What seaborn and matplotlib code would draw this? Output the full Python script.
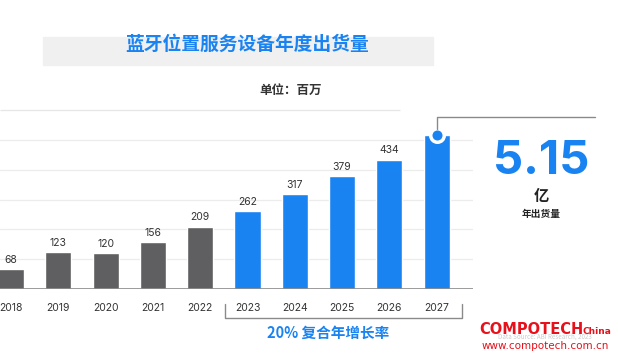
import numpy as np
import pandas as pd
import matplotlib
matplotlib.use('Agg')
import matplotlib.pyplot as plt
import seaborn as sns

# 数据
years = ['2018', '2019', '2020', '2021', '2022', '2023', '2024', '2025', '2026', '2027']
shipments = [68, 123, 120, 156, 209, 262, 317, 379, 434, 515]
forecast = [False] * 5 + [True] * 5

GRAY = '#5f5f61'
BLUE = '#1a83f2'
W, H = 618, 357


def px(x, y):
    # 像素坐标(左上为原点) -> figure 比例坐标
    return x / W, 1 - y / H


sns.set_theme(style='white')
plt.rcParams['font.family'] = ['Noto Sans CJK SC', 'DejaVu Sans']

df = pd.DataFrame({'year': years, 'value': shipments,
                   'kind': ['f' if f else 'h' for f in forecast]})

fig = plt.figure(figsize=(W / 100, H / 100), dpi=100)
fig.patch.set_facecolor('white')

# 坐标区: 第一根柱中心 x=11px, 间距 47.3px; 基线 289px, 600 -> 110px
step = 47.3
x0 = -11 / step
x1 = (473 - 11) / step
ax = fig.add_axes([0, (H - 289) / H, 473 / W, (289 - 110) / H])
sns.barplot(data=df, x='year', y='value', hue='kind', palette={'h': GRAY, 'f': BLUE},
            width=0.55, dodge=False, legend=False, ax=ax, saturation=1, zorder=3)
ax.set_xlim(x0, x1)
ax.set_ylim(0, 600)
for v in [100, 200, 300, 400, 500]:
    ax.axhline(v, color='#ececec', lw=0.9, zorder=0)
ax.hlines(600, x0, (400 - 11) / step, color='#e6e6e6', lw=0.9, clip_on=False)
ax.axhline(0, color='#8a8a8a', lw=1.2, zorder=4)
for s in ax.spines.values():
    s.set_visible(False)
ax.set_xlabel('')
ax.set_ylabel('')
ax.set_yticks([])
ax.tick_params(axis='x', length=0, pad=10, labelsize=7.5, labelcolor='#333333')
for lab in ax.get_xticklabels():
    lab.set_family(['Inter', 'DejaVu Sans'])

# 数值标签
for i, v in enumerate(shipments[:-1]):
    ax.text(i, v + 14, str(v), ha='center', va='bottom', fontsize=7.5,
            color='#333333', family=['Inter', 'DejaVu Sans'])

# 2027 顶部圆点
ax.scatter([9], [shipments[-1]], s=95, color=BLUE, edgecolor='white', linewidth=2.5,
           zorder=6, clip_on=False)

# 引出线
fig.add_artist(plt.Line2D([px(437, 129)[0], px(437, 117)[0], px(595, 117)[0]],
                          [px(437, 129)[1], px(437, 117)[1], px(595, 117)[1]],
                          color='#8a8a8a', lw=1.0))

# 标题背景带
fig.add_artist(plt.Rectangle(px(43, 65), 390 / W, 28 / H, color='#f0f0f0', zorder=0))
fig.text(*px(247, 44), '蓝牙位置服务设备年度出货量', ha='center', va='center',
         fontsize=13.5, fontweight='bold', color=BLUE)
fig.text(*px(291, 90), '单位：百万', ha='center', va='center',
         fontsize=9, fontweight='bold', color='#333333')

# 大数字
fig.text(*px(541, 162), '5.15', ha='center', va='center', fontsize=34,
         fontweight='bold', color=BLUE, family=['Inter', 'DejaVu Sans'])
fig.text(*px(541, 196), '亿', ha='center', va='center', fontsize=11,
         fontweight='bold', color='#222222')
fig.text(*px(541, 214), '年出货量', ha='center', va='center', fontsize=7,
         fontweight='bold', color='#222222')

# 增长率括号
xs = [225, 225, 462, 462]
ys = [304, 318, 318, 304]
fig.add_artist(plt.Line2D([px(a, 0)[0] for a in xs], [px(0, b)[1] for b in ys],
                          color='#8a8a8a', lw=1.0))
fig.text(*px(328, 333), '20% 复合年增长率', ha='center', va='center', fontsize=10.5,
         fontweight='bold', color=BLUE)

# 水印
fig.text(*px(545, 337), 'Data Source: ABI Research, 2023', ha='center', va='center',
         fontsize=4.5, color='#cccccc', zorder=0)
fig.text(*px(479, 329), 'COMPOTECH', ha='left', va='center', fontsize=10.5,
         fontweight='bold', color='#e8101a', family=['DejaVu Sans'])
fig.text(*px(611, 331), 'China', ha='right', va='center', fontsize=6.5,
         fontweight='bold', color='#e8101a', family=['DejaVu Sans'])
fig.text(*px(545, 346), 'www.compotech.com.cn', ha='center', va='center', fontsize=7.5,
         color='#e8101a', family=['DejaVu Sans'])

fig.savefig('out.png', dpi=100, facecolor='white')
